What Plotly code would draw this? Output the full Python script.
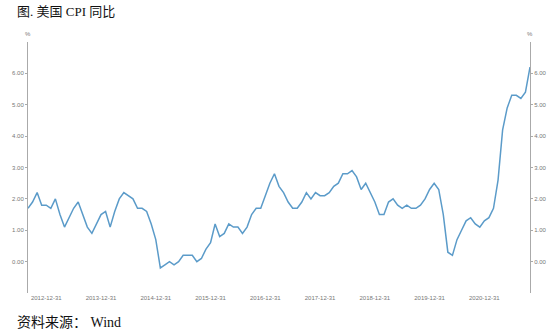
import calendar
import plotly.graph_objects as go

# Monthly US CPI YoY (%), 2012-08 .. 2021-10
start_year, start_month = 2012, 8
cpi_yoy = [
    1.7, 1.9, 2.2, 1.8, 1.8,
    1.7, 2.0, 1.5, 1.1, 1.4, 1.7, 1.9, 1.5, 1.1, 0.9, 1.2, 1.5,
    1.6, 1.1, 1.6, 2.0, 2.2, 2.1, 2.0, 1.7, 1.7, 1.6, 1.2, 0.7,
    -0.2, -0.1, 0.0, -0.1, 0.0, 0.2, 0.2, 0.2, 0.0, 0.1, 0.4, 0.6,
    1.2, 0.8, 0.9, 1.2, 1.1, 1.1, 0.9, 1.1, 1.5, 1.7, 1.7, 2.1,
    2.5, 2.8, 2.4, 2.2, 1.9, 1.7, 1.7, 1.9, 2.2, 2.0, 2.2, 2.1,
    2.1, 2.2, 2.4, 2.5, 2.8, 2.8, 2.9, 2.7, 2.3, 2.5, 2.2, 1.9,
    1.5, 1.5, 1.9, 2.0, 1.8, 1.7, 1.8, 1.7, 1.7, 1.8, 2.0, 2.3,
    2.5, 2.3, 1.5, 0.3, 0.2, 0.7, 1.0, 1.3, 1.4, 1.2, 1.1, 1.3,
    1.4, 1.7, 2.6, 4.2, 4.9, 5.3, 5.3, 5.2, 5.4, 6.2,
]

dates = []
y, m = start_year, start_month
for _ in cpi_yoy:
    d = calendar.monthrange(y, m)[1]
    dates.append(f"{y:04d}-{m:02d}-{d:02d}")
    m += 1
    if m > 12:
        m, y = 1, y + 1

x_labels = [d for d in dates if d.endswith("-12-31")]
quarter_ticks = [d for d in dates if d[5:7] in ("03", "06", "09", "12")]
y_ticks = [0, 1, 2, 3, 4, 5, 6]
y_text = [f"{v:.2f}" for v in y_ticks]

title_text = "图. 美国 CPI 同比"
source_text = "资料来源： Wind"

line_color = "#5b9bc9"
serif = "Liberation Serif, Noto Sans CJK SC, serif"
small = dict(family="Arial, Liberation Sans, sans-serif", size=6, color="#777777")

fig = go.Figure()
fig.add_trace(go.Scatter(x=dates, y=cpi_yoy, mode="lines",
                         line=dict(color=line_color, width=1.5),
                         xaxis="x", yaxis="y", showlegend=False, hoverinfo="x+y"))
fig.add_trace(go.Scatter(x=dates, y=cpi_yoy, mode="lines",
                         line=dict(color="rgba(0,0,0,0)", width=0),
                         xaxis="x", yaxis="y2", showlegend=False, hoverinfo="skip"))

n = len(dates)
fig.update_layout(
    width=559, height=330,
    margin=dict(l=16, r=17, t=42, b=37),
    paper_bgcolor="white", plot_bgcolor="white",
    xaxis=dict(type="category", range=[0, n - 1], tickmode="array",
               tickvals=x_labels, ticktext=x_labels, showgrid=False,
               zeroline=False, showline=False, ticks="", tickfont=small,
               ticklabelstandoff=0),
    xaxis2=dict(type="category", range=[0, n - 1], overlaying="x",
                anchor="free", position=0.125, side="bottom",
                tickmode="array", tickvals=quarter_ticks, showticklabels=False,
                ticks="outside", ticklen=3, tickcolor="#8a8080", tickwidth=1,
                showline=True, linecolor="#7a6e6e", linewidth=1.2,
                showgrid=False, zeroline=False),
    yaxis=dict(range=[-1, 7], tickmode="array", tickvals=y_ticks, ticktext=y_text,
               showgrid=False, zeroline=False, showline=True, linecolor="#aaaaaa",
               linewidth=1, ticks="outside", ticklen=2, tickcolor="#aaaaaa",
               tickfont=small),
    yaxis2=dict(range=[-1, 7], overlaying="y", side="right", anchor="x",
                tickmode="array", tickvals=y_ticks, ticktext=y_text,
                showgrid=False, zeroline=False, showline=True, linecolor="#aaaaaa",
                linewidth=1, ticks="outside", ticklen=2, tickcolor="#aaaaaa",
                tickfont=small),
    annotations=[
        dict(text=title_text, xref="paper", yref="paper", x=-14 / 526, y=1 + 31 / 251,
             xanchor="left", yanchor="middle", showarrow=False,
             font=dict(family=serif, size=13, color="#111111")),
        dict(text=source_text, xref="paper", yref="paper", x=-14 / 526, y=-29 / 251,
             xanchor="left", yanchor="middle", showarrow=False,
             font=dict(family=serif, size=14, color="#111111")),
        dict(text="%", xref="paper", yref="paper", x=0, y=1 + 8 / 251,
             xanchor="center", yanchor="middle", showarrow=False, font=small),
        dict(text="%", xref="paper", yref="paper", x=1, y=1 + 8 / 251,
             xanchor="center", yanchor="middle", showarrow=False, font=small),
    ],
)

fig.write_html("out.html")
